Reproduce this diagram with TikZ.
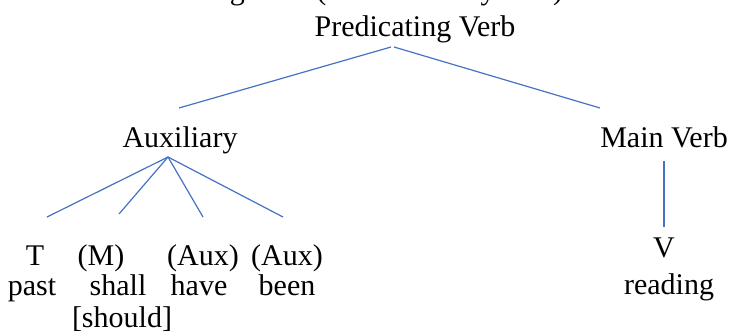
\documentclass[tikz,border=0pt]{standalone}
\usepackage{fontspec}
\setmainfont{Liberation Serif}
\definecolor{linkblue}{HTML}{4472C4}
\begin{document}
\begin{tikzpicture}[x=1pt,y=-1pt,
  lbl/.style={inner sep=0pt, anchor=base, font=\fontsize{30}{33}\selectfont},
  link/.style={draw=linkblue, line width=1.2pt}]
\useasboundingbox (0,0) rectangle (733,332);
\clip (0,0) rectangle (733,332);
\node[lbl, anchor=base west] (title) at (8,-1) {Parts of Predicating Verb (Includes Only One)};
\node[lbl] (pv) at (415,36) {Predicating Verb};
\node[lbl] (aux) at (180,147) {Auxiliary};
\node[lbl] (mv) at (664,147) {Main Verb};
\node[lbl] (t) at (35,265) {T};
\node[lbl] (m) at (101,265) {(M)};
\node[lbl] (auxa) at (203,265) {(Aux)};
\node[lbl] (auxb) at (287,265) {(Aux)};
\node[lbl] (past) at (32,295) {past};
\node[lbl] (shall) at (118,295) {shall};
\node[lbl] (have) at (199,295) {have};
\node[lbl] (been) at (287,295) {been};
\node[lbl] (should) at (122,327) {[should]};
\node[lbl] (v) at (664,257) {V};
\node[lbl] (reading) at (669,294) {reading};
\draw[link] ([shift={(-24,11)}]pv.base) -- ([shift={(-1,-39)}]aux.base);
\draw[link] ([shift={(-21,11)}]pv.base) -- ([shift={(-64,-39)}]mv.base);
\draw[link] ([shift={(-12,10)}]aux.base) -- ([shift={(12,-48)}]t.base);
\draw[link] ([shift={(-12,10)}]aux.base) -- ([shift={(18,-51)}]m.base);
\draw[link] ([shift={(-12,10)}]aux.base) -- ([shift={(0,-48)}]auxa.base);
\draw[link] ([shift={(-12,10)}]aux.base) -- ([shift={(-4,-48)}]auxb.base);
\draw[link] ([shift={(0,14)}]mv.base) -- ([shift={(0,-30)}]v.base);
\end{tikzpicture}
\end{document}
